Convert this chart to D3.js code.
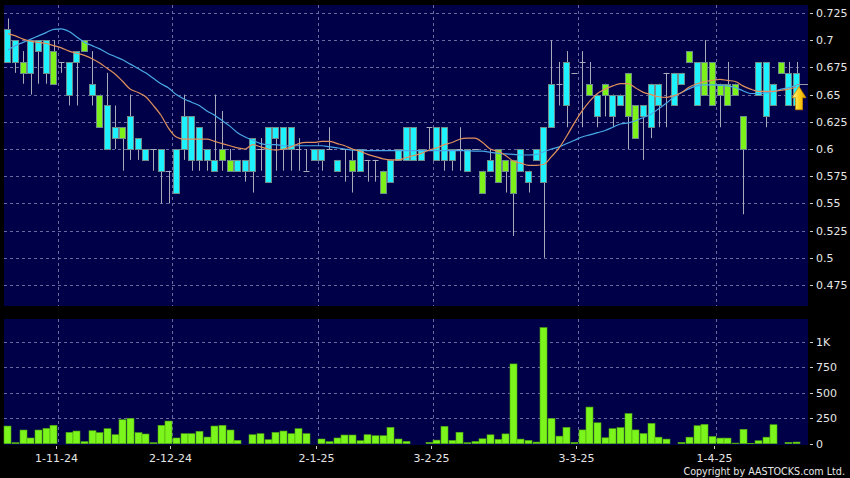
<!DOCTYPE html>
<html><head><meta charset="utf-8">
<script src="https://cdn.jsdelivr.net/npm/d3@7"></script>
<style>body{margin:0;background:#000;}svg{display:block;}</style>
</head><body><svg id="c" width="850" height="478"></svg>
<script>
// ---- data ----
const open  = [.68,.68,.68,.67,.69,.67,.69,.68,.65,.68,.70,.65,.65,.60,.61,.62,.60,.60,.59,.60,.58,.58,.56,.60,.59,.59,.59,.58,.60,.59,.58,.58,.58,.60,.57,.61,.60,.60,.60,.58,.59,.59,.60,.58,.60,.59,.58,.59,.59,.58,.57,.59,.59,.59,.59,.62,.59,.59,.59,.60,.58,.60,.58,.58,.60,.59,.59,.58,.57,.59,.57,.62,.66,.64,.67,.68,.66,.63,.66,.63,.64,.67,.64,.63,.62,.64,.67,.64,.66,.69,.64,.68,.68,.66,.66,.66,.63,null,.65,.63,.64,.68,.64,.64];
const high  = [.72,.70,.69,.70,.70,.70,.70,.68,.68,.69,.70,.69,.65,.67,.64,.62,.65,.61,.60,.60,.60,.58,.60,.65,.63,.62,.60,.65,.635,.60,.59,.59,.61,.61,.62,.62,.62,.62,.61,.60,.60,.60,.62,.59,.60,.60,.60,.59,.59,.58,.59,.60,.62,.62,.60,.62,.62,.62,.60,.62,.60,.60,.58,.60,.60,.59,.59,.60,.58,.60,.62,.70,.68,.69,.67,.69,.68,.65,.66,.65,.65,.67,.64,.64,.66,.66,.67,.67,.67,.69,.68,.70,.68,.66,.68,.66,.63,null,.68,.68,.66,.68,.68,.68];
const low   = [.68,.67,.66,.65,.66,.66,.66,.67,.64,.64,.69,.64,.62,.60,.60,.58,.59,.59,.59,.58,.55,.55,.56,.59,.58,.58,.58,.58,.58,.58,.58,.57,.56,.58,.57,.58,.58,.58,.58,.58,.59,.58,.60,.58,.57,.56,.58,.57,.57,.56,.57,.59,.59,.59,.59,.60,.59,.58,.58,.58,.58,.60,.56,.58,.57,.56,.52,.58,.56,.59,.50,.62,.64,.62,.67,.62,.65,.62,.63,.62,.64,.60,.61,.59,.61,.62,.62,.64,.66,.68,.64,.65,.64,.62,.64,.65,.54,null,.65,.62,.64,.67,.64,.64];
const close = [.71,.70,.67,.70,.70,.70,.66,.68,.68,.69,.69,.66,.62,.64,.62,.61,.63,.61,.60,.60,.60,.58,.60,.63,.63,.62,.60,.59,.59,.58,.59,.59,.61,.60,.62,.62,.62,.62,.60,.58,.60,.60,.60,.59,.60,.58,.60,.59,.59,.56,.59,.60,.62,.62,.60,.62,.62,.62,.60,.60,.60,.60,.56,.59,.57,.58,.56,.60,.58,.60,.62,.66,.66,.68,.67,.68,.65,.65,.65,.65,.65,.63,.61,.64,.66,.66,.67,.67,.67,.68,.68,.65,.64,.65,.64,.65,.60,null,.68,.68,.66,.67,.67,.67];
const volume = [173,10,134,56,134,150,180,0,111,124,20,127,108,147,88,235,248,108,95,10,180,222,56,98,98,121,65,173,180,134,33,0,88,98,39,111,124,98,147,98,0,46,20,56,85,85,29,88,78,78,160,46,23,0,0,13,35,170,32,112,10,22,48,87,42,96,782,45,32,16,1138,247,74,160,13,135,359,205,58,147,157,295,135,99,199,64,45,0,13,64,176,189,70,55,55,6,141,3,29,64,186,0,13,16];
const maShort = [.706,.704,.701,.699,.698,.697,.695,.693,.690,.688,.686,.683,.679,.674,.669,.662,.655,.652,.648,.640,.631,.619,.611,.609,.609,.609,.609,.607,.605,.603,.601,.600,.604,.602,.600,.599,.600,.602,.605,.606,.606,.607,.607,.605,.603,.600,.598,.595,.593,.591,.590,.590,.592,.594,.596,.599,.601,.604,.606,.609,.610,.610,.606,.600,.598,.594,.589,.587,.585,.585,.586,.593,.601,.612,.624,.635,.644,.651,.655,.658,.660,.660,.656,.652,.650,.648,.6475,.649,.652,.657,.660,.662,.663,.664,.663,.662,.658,.655,.653,.653,.653,.654,.655,.657];
const maLong  = [.691,.695,.698,.701,.704,.707,.710,.7105,.708,.703,.698,.695,.692,.688,.685,.682,.678,.674,.670,.665,.660,.656,.650,.646,.643,.640,.635,.631,.626,.621,.615,.611,.608,.605,.604,.604,.603,.603,.603,.603,.603,.603,.602,.601,.600,.599,.599,.5985,.5985,.5985,.5985,.5985,.5985,.5985,.5985,.5985,.5985,.5985,.5985,.5985,.5985,.598,.598,.597,.596,.5955,.595,.5945,.5945,.595,.5975,.600,.602,.605,.608,.611,.613,.615,.617,.620,.623,.624,.626,.629,.632,.637,.642,.648,.652,.6555,.658,.659,.659,.6585,.658,.6565,.6535,.651,.651,.6515,.653,.655,.6565,.6585];
const priceTicks = [0.475,0.5,0.525,0.55,0.575,0.6,0.625,0.65,0.675,0.7,0.725];
const volTicks = [0,250,500,750,1000];
const volTickLabels = ["0","250","500","750","1K"];
const dateTickSlots = [7,22,41,56,75,93];
const dateTickLabels = ["1-11-24","2-12-24","2-1-25","3-2-25","3-3-25","1-4-25"];
const lastPrice = 0.66;

// ---- layout ----
const svg = d3.select("#c");
const L = 4, R = 808;
const main = {top:5, bottom:306};
const vol = {top:319, bottom:445};
const nSlots = 105;
const idx = open.map((d,i)=>i);
const x = d3.scaleBand().domain(d3.range(nSlots)).range([L,R]).paddingInner(0.12).paddingOuter(0.06);
const y = d3.scaleLinear().domain([0.475,0.725]).range([285,13]);
const yv = d3.scaleLinear().domain([0,1000]).range([443.7,341.7]);
const cx = i => x(i) + x.bandwidth()/2;

svg.append("rect").attr("width",850).attr("height",478).attr("fill","#000");
svg.append("rect").attr("x",L).attr("y",main.top).attr("width",R-L).attr("height",main.bottom-main.top).attr("fill","#000048");
svg.append("rect").attr("x",L).attr("y",vol.top).attr("width",R-L).attr("height",vol.bottom-vol.top).attr("fill","#000048");

const gridCol = "#6a6aa0";
const g = svg.append("g").attr("stroke",gridCol).attr("stroke-dasharray","3,3").attr("stroke-width",1);
priceTicks.forEach(t=>{
  const yy = Math.round(y(t))+0.5;
  g.append("line").attr("x1",L).attr("x2",R).attr("y1",yy).attr("y2",yy);
});
volTicks.slice(1).forEach(t=>{
  const yy = Math.round(yv(t))+0.5;
  g.append("line").attr("x1",L).attr("x2",R).attr("y1",yy).attr("y2",yy);
});
dateTickSlots.forEach(s=>{
  const xx = Math.round(x(s)-0.5)+0.5;
  g.append("line").attr("x1",xx).attr("x2",xx).attr("y1",main.top).attr("y2",main.bottom);
  g.append("line").attr("x1",xx).attr("x2",xx).attr("y1",vol.top).attr("y2",vol.bottom);
});

// ---- candles ----
const cyan = "#1ff2ff", green = "#7cf21a";
const cg = svg.append("g");
idx.forEach(i=>{
  if (open[i]==null) return;
  const xc = Math.round(cx(i))+0.5;
  cg.append("line").attr("x1",xc).attr("x2",xc).attr("y1",y(high[i])).attr("y2",y(low[i]))
    .attr("stroke","#a9a9b9").attr("stroke-width",1);
  const top = Math.max(open[i],close[i]), bot = Math.min(open[i],close[i]);
  const bx = Math.round(x(i))+0.5, bw = Math.round(x.bandwidth())-1;
  if (top===bot) {
    const yy = Math.round(y(top))+0.5;
    cg.append("line").attr("x1",bx).attr("x2",bx+bw).attr("y1",yy).attr("y2",yy)
      .attr("stroke","#a9a9b9").attr("stroke-width",1);
  } else {
    const y0 = Math.round(y(top))+0.5, y1 = Math.round(y(bot))+0.5;
    cg.append("rect").attr("x",bx).attr("y",y0).attr("width",bw).attr("height",y1-y0)
      .attr("fill", close[i]>open[i] ? cyan : green)
      .attr("stroke","#6f8c8c").attr("stroke-width",1);
  }
});

// ---- moving averages ----
const line = d3.line().x((d,i)=>cx(i)).y(d=>y(d)).curve(d3.curveMonotoneX);
svg.append("path").datum(maLong).attr("d",line).attr("fill","none").attr("stroke","#49a9e6").attr("stroke-width",1.2);
svg.append("path").datum(maShort).attr("d",line).attr("fill","none").attr("stroke","#e0905c").attr("stroke-width",1.2);

// last price marker
svg.append("line").attr("x1",cx(103)).attr("x2",R).attr("y1",Math.round(y(lastPrice))+0.5).attr("y2",Math.round(y(lastPrice))+0.5)
  .attr("stroke","#9a9aaa").attr("stroke-width",1);
const defs = svg.append("defs");
const lg = defs.append("linearGradient").attr("id","ag").attr("x1","0").attr("x2","1").attr("y1","0").attr("y2","0");
lg.append("stop").attr("offset","0").attr("stop-color","#fff2a0");
lg.append("stop").attr("offset","0.5").attr("stop-color","#ffd21a");
lg.append("stop").attr("offset","1").attr("stop-color","#e0a000");
const ax = cx(103)+2.5, ay = y(lastPrice)+3;
svg.append("path").attr("d",`M${ax},${ay} l7,11 h-3.5 v12 h-7 v-12 h-3.5 Z`)
  .attr("fill","url(#ag)").attr("stroke","#c88a00").attr("stroke-width",0.8);

// ---- volume ----
const vg = svg.append("g");
idx.forEach(i=>{
  if (!volume[i]) return;
  const y0 = yv(volume[i]);
  vg.append("rect").attr("x",Math.round(x(i))).attr("y",y0).attr("width",Math.round(x.bandwidth())).attr("height",yv(0)-y0)
    .attr("fill","#7cf51c").attr("stroke","#4fa80e").attr("stroke-width",0.6);
});

// ---- axes text ----
const font = "'DejaVu Sans', Verdana, sans-serif";
const ta = svg.append("g").attr("font-family",font).attr("font-size",11).attr("fill","#e6e6e6");
priceTicks.forEach(t=>{
  const yy = y(t);
  svg.append("line").attr("x1",810).attr("x2",813).attr("y1",Math.round(yy)+0.5).attr("y2",Math.round(yy)+0.5).attr("stroke","#ccc");
  ta.append("text").attr("x",816).attr("y",yy+4).text(String(t));
});
volTicks.forEach((t,j)=>{
  const yy = yv(t);
  svg.append("line").attr("x1",810).attr("x2",813).attr("y1",Math.round(yy)+0.5).attr("y2",Math.round(yy)+0.5).attr("stroke","#ccc");
  ta.append("text").attr("x",816).attr("y",yy+4).text(volTickLabels[j]);
});
dateTickSlots.forEach((s,j)=>{
  const xx = Math.round(x(s)-0.5)+0.5 - 2;
  svg.append("line").attr("x1",xx).attr("x2",xx).attr("y1",446).attr("y2",449).attr("stroke","#ccc");
  ta.append("text").attr("x",xx).attr("y",462).attr("text-anchor","middle").text(dateTickLabels[j]);
});
svg.append("text").attr("x",845).attr("y",475).attr("text-anchor","end").attr("font-family",font)
  .attr("font-size",9.6).attr("fill","#e6e6e6").text("Copyright by AASTOCKS.com Ltd.");
</script></body></html>
